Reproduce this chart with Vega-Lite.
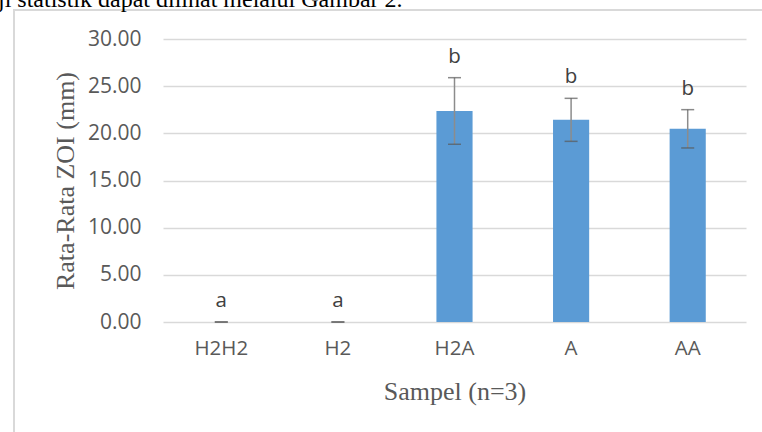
{
  "$schema": "https://vega.github.io/schema/vega-lite/v6.json",
  "autosize": {"type": "none"},
  "width": 758,
  "height": 432,
  "padding": {"left": 14, "top": 10, "right": -10, "bottom": -10},
  "background": "white",
  "title": {
    "text": "ji statistik dapat dilihat melalui Gambar 2.",
    "anchor": "start",
    "frame": "group",
    "orient": "top",
    "font": "Liberation Serif",
    "fontSize": 24,
    "fontWeight": "normal",
    "color": "#000000",
    "baseline": "alphabetic",
    "offset": -21,
    "dx": -16
  },
  "config": {
    "view": {"stroke": "#d9d9d9", "strokeWidth": 2},
    "axis": {"labelFont": "Open Sans", "titleFont": "Liberation Serif", "titleFontWeight": "normal"}
  },
  "data": {
    "values": [
      {"sampel": "H2H2", "mean": 0, "lower": 0, "upper": 0, "label": "a"},
      {"sampel": "H2", "mean": 0, "lower": 0, "upper": 0, "label": "a"},
      {"sampel": "H2A", "mean": 22.37, "lower": 18.84, "upper": 25.9, "label": "b"},
      {"sampel": "A", "mean": 21.43, "lower": 19.15, "upper": 23.71, "label": "b"},
      {"sampel": "AA", "mean": 20.48, "lower": 18.45, "upper": 22.51, "label": "b"}
    ]
  },
  "encoding": {
    "x": {
      "field": "sampel",
      "type": "nominal",
      "sort": ["H2H2", "H2", "H2A", "A", "AA"],
      "scale": {"range": [149, 732], "paddingInner": 0.69, "paddingOuter": 0.345},
      "axis": {
        "title": "Sampel (n=3)",
        "titleFontSize": 26,
        "titleColor": "#595959",
        "titlePadding": 20,
        "labelFontSize": 20.5,
        "labelColor": "#595959",
        "labelAngle": 0,
        "labelPadding": 16,
        "ticks": false,
        "domain": false,
        "offset": -120
      }
    }
  },
  "layer": [
    {
      "mark": {"type": "bar", "color": "#5b9bd5"},
      "encoding": {
        "y": {
          "field": "mean",
          "type": "quantitative",
          "scale": {"domain": [0, 30], "range": [312, 29], "nice": false},
          "axis": {
            "title": "Rata-Rata ZOI (mm)",
            "titleFontSize": 26,
            "titleColor": "#595959",
            "titlePadding": 9,
            "values": [0, 5, 10, 15, 20, 25, 30],
            "format": ".2f",
            "labelFontSize": 21,
            "labelColor": "#595959",
            "labelPadding": 22,
            "ticks": false,
            "domain": false,
            "grid": true,
            "gridColor": "#d9d9d9",
            "gridWidth": 1.5,
            "offset": -149
          }
        }
      }
    },
    {
      "mark": {"type": "rule", "color": "#8c8c8c", "strokeWidth": 1.5},
      "encoding": {
        "y": {"field": "lower", "type": "quantitative"},
        "y2": {"field": "upper"}
      }
    },
    {
      "mark": {"type": "tick", "color": "#595959", "size": 13, "thickness": 1.5},
      "encoding": {"y": {"field": "upper", "type": "quantitative"}}
    },
    {
      "mark": {"type": "tick", "color": "#595959", "size": 13, "thickness": 1.5},
      "encoding": {"y": {"field": "lower", "type": "quantitative"}}
    },
    {
      "mark": {"type": "text", "font": "Open Sans", "fontSize": 20.5, "color": "#404040", "baseline": "middle", "dy": -21},
      "encoding": {
        "y": {"field": "upper", "type": "quantitative"},
        "text": {"field": "label"}
      }
    }
  ]
}
